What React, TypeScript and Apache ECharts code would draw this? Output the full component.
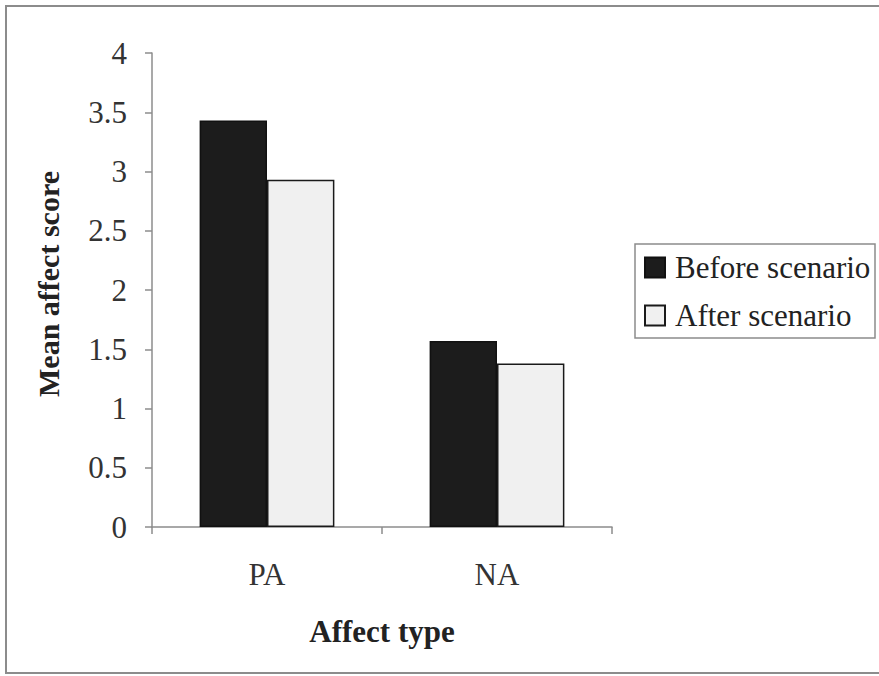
import React, { useEffect, useRef } from "react";
import * as echarts from "echarts";

const categories = ["PA", "NA"];
const beforeScenario = [3.43, 1.57];
const afterScenario = [2.93, 1.38];
const seriesNames = ["Before scenario", "After scenario"];
const yTicks = { min: 0, max: 4, interval: 0.5 };

const FONT = "Liberation Serif";

export default function App() {
  const ref = useRef<HTMLDivElement>(null);
  useEffect(() => {
    if (!ref.current) return;
    const chart = echarts.init(ref.current, null, { renderer: "svg" });
    chart.setOption({
      animation: false,
      backgroundColor: "#ffffff",
      textStyle: { fontFamily: FONT },
      grid: { left: 152, top: 53, right: 267, bottom: 149, containLabel: false },
      graphic: [
        {
          type: "rect",
          shape: { x: 6, y: 6, width: 880, height: 667 },
          style: { fill: "none", stroke: "#8c8c8c", lineWidth: 2 },
          silent: true,
        },
        {
          type: "rect",
          shape: { x: 635, y: 244, width: 240, height: 94 },
          style: { fill: "none", stroke: "#8c8c8c", lineWidth: 1.5 },
          silent: true,
        },
      ],
      legend: {
        orient: "vertical",
        left: 644,
        top: 252,
        padding: 0,
        itemWidth: 20,
        itemHeight: 20,
        itemGap: 17,
        icon: "rect",
        textStyle: { fontFamily: FONT, fontSize: 31, color: "#222", lineHeight: 30, padding: [0, 0, 0, 5] },
        data: seriesNames,
      },
      xAxis: {
        type: "category",
        data: categories,
        name: "Affect type",
        nameLocation: "middle",
        nameGap: 89,
        nameTextStyle: { fontFamily: FONT, fontSize: 31, fontWeight: "bold", color: "#222" },
        axisLine: { lineStyle: { color: "#8c8c8c", width: 1.5 } },
        axisTick: { show: true, length: 7, lineStyle: { color: "#8c8c8c", width: 1.5 } },
        axisLabel: { fontFamily: FONT, fontSize: 31, color: "#333", margin: 32 },
      },
      yAxis: {
        type: "value",
        min: yTicks.min,
        max: yTicks.max,
        interval: yTicks.interval,
        name: "Mean affect score",
        nameLocation: "middle",
        nameGap: 89,
        nameRotate: 90,
        nameTextStyle: { fontFamily: FONT, fontSize: 30, fontWeight: "bold", color: "#222", padding: [0, 0, 0, 12] },
        splitLine: { show: false },
        axisLine: { show: true, lineStyle: { color: "#8c8c8c", width: 1.5 } },
        axisTick: { show: true, length: 7, lineStyle: { color: "#8c8c8c", width: 1.5 } },
        axisLabel: { fontFamily: FONT, fontSize: 31, color: "#333", margin: 25 },
      },
      series: [
        {
          name: seriesNames[0],
          type: "bar",
          data: beforeScenario,
          barWidth: "29.3%",
          barGap: "0%",
          itemStyle: { color: "#1c1c1c", borderColor: "#111", borderWidth: 1.5 },
        },
        {
          name: seriesNames[1],
          type: "bar",
          data: afterScenario,
          barWidth: "29.3%",
          barGap: "0%",
          itemStyle: { color: "#f0f0f0", borderColor: "#1a1a1a", borderWidth: 1.5 },
        },
      ],
    });
    return () => chart.dispose();
  }, []);
  return (
    <div
      ref={ref}
      style={{ position: "fixed", left: 0, top: 0, width: 879, height: 676, background: "#fff" }}
    />
  );
}
